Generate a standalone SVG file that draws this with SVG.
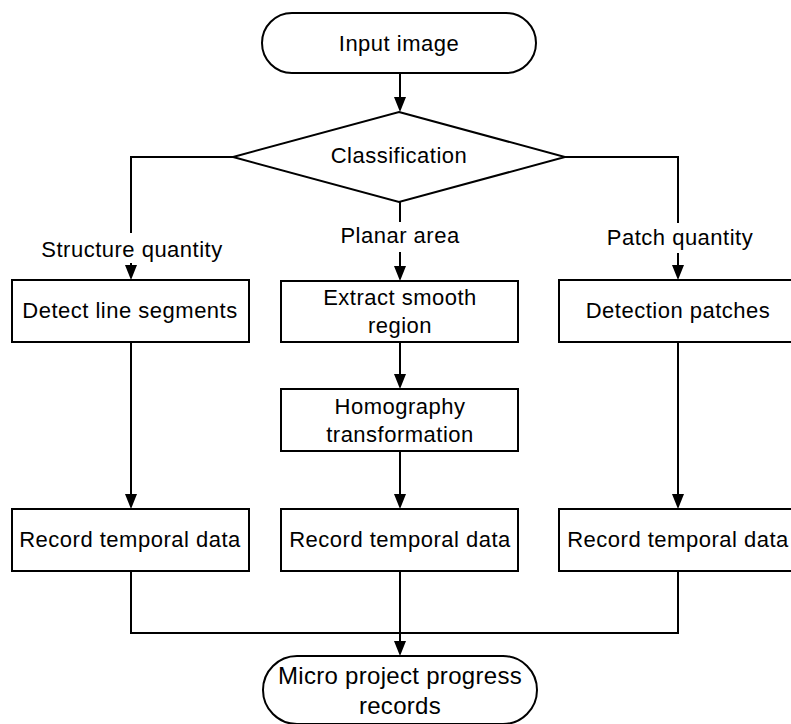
<svg xmlns="http://www.w3.org/2000/svg" width="791" height="724" viewBox="0 0 791 724">
  <style>
    .shape { fill: #ffffff; stroke: #000000; stroke-width: 2; }
    .conn { fill: none; stroke: #000000; stroke-width: 2; }
    .lbl { font-family: "Liberation Sans", Arial, sans-serif; font-size: 22px; letter-spacing: 0.5px; fill: #000000; text-anchor: middle; }
    .big { font-size: 24px; letter-spacing: 0.3px; }
  </style>
  <defs>
    <marker id="arrow" viewBox="0 0 15 12" refX="12" refY="6" markerWidth="15" markerHeight="12" markerUnits="userSpaceOnUse" orient="auto">
      <path d="M0,0 L15,6 L0,12 z" fill="#000000"/>
    </marker>
  </defs>
  <rect width="791" height="724" fill="#ffffff"/>

  <g id="connectors">
    <path class="conn" d="M400,73 V109" marker-end="url(#arrow)"/>
    <path class="conn" d="M233,157 H131 V233"/>
    <path class="conn" d="M131,263 V277" marker-end="url(#arrow)"/>
    <path class="conn" d="M400,202 V222"/>
    <path class="conn" d="M400,252 V278" marker-end="url(#arrow)"/>
    <path class="conn" d="M565,157 H678 V223"/>
    <path class="conn" d="M678,253 V277" marker-end="url(#arrow)"/>
    <path class="conn" d="M131,342 V506" marker-end="url(#arrow)"/>
    <path class="conn" d="M400,342 V386" marker-end="url(#arrow)"/>
    <path class="conn" d="M400,451 V506" marker-end="url(#arrow)"/>
    <path class="conn" d="M678,342 V506" marker-end="url(#arrow)"/>
    <path class="conn" d="M131,571 V633 H678 V571"/>
    <path class="conn" d="M400,571 V653" marker-end="url(#arrow)"/>
    <text class="lbl" x="132" y="257">Structure quantity</text>
    <text class="lbl" x="400" y="243">Planar area</text>
    <text class="lbl" x="680" y="245">Patch quantity</text>
  </g>

  <g id="input-image">
    <rect class="shape" x="262" y="13" width="274" height="60" rx="30" ry="30"/>
    <text class="lbl" x="399" y="51">Input image</text>
  </g>

  <g id="classification">
    <polygon class="shape" points="399,112 565,157 399,202 233,157"/>
    <text class="lbl" x="399" y="163">Classification</text>
  </g>

  <g id="detect-line-segments">
    <rect class="shape" x="12" y="280" width="237" height="62"/>
    <text class="lbl" x="130" y="318">Detect line segments</text>
  </g>

  <g id="extract-smooth-region">
    <rect class="shape" x="281" y="281" width="237" height="61"/>
    <text class="lbl" x="400" y="305">Extract smooth</text>
    <text class="lbl" x="400" y="333">region</text>
  </g>

  <g id="detection-patches">
    <rect class="shape" x="559" y="280" width="238" height="62"/>
    <text class="lbl" x="678" y="318">Detection patches</text>
  </g>

  <g id="homography-transformation">
    <rect class="shape" x="281" y="389" width="237" height="62"/>
    <text class="lbl" x="400" y="414">Homography</text>
    <text class="lbl" x="400" y="442">transformation</text>
  </g>

  <g id="record-left">
    <rect class="shape" x="12" y="509" width="237" height="62"/>
    <text class="lbl" x="130" y="547">Record temporal data</text>
  </g>

  <g id="record-center">
    <rect class="shape" x="281" y="509" width="237" height="62"/>
    <text class="lbl" x="400" y="547">Record temporal data</text>
  </g>

  <g id="record-right">
    <rect class="shape" x="559" y="509" width="238" height="62"/>
    <text class="lbl" x="678" y="547">Record temporal data</text>
  </g>

  <g id="micro-project-progress-records">
    <rect class="shape" x="263" y="656" width="274" height="68" rx="34" ry="34"/>
    <text class="lbl big" x="400" y="684">Micro project progress</text>
    <text class="lbl big" x="400" y="714">records</text>
  </g>
</svg>
